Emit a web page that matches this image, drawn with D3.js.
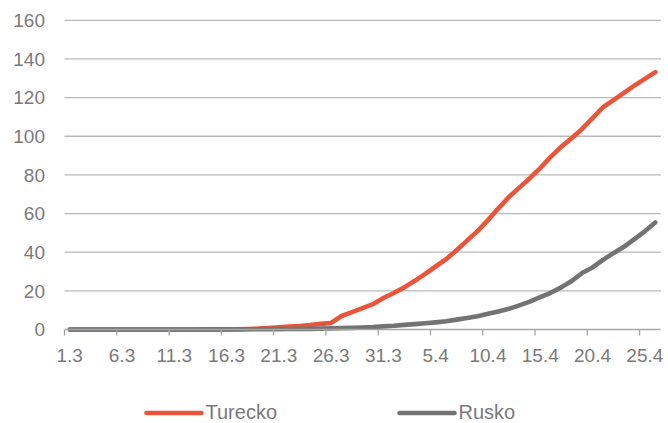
<!DOCTYPE html>
<html>
<head>
<meta charset="utf-8">
<script src="https://cdn.jsdelivr.net/npm/d3@7/dist/d3.min.js"></script>
<style>
  html, body { margin: 0; padding: 0; background: #fff; }
  svg { display: block; font-family: "Liberation Sans", Arial, sans-serif; }
</style>
</head>
<body>
<svg id="chart" width="668" height="423"></svg>
<script>
// Categories: daily dates 1.3 – 26.4
const categories = [
  "1.3","2.3","3.3","4.3","5.3","6.3","7.3","8.3","9.3","10.3",
  "11.3","12.3","13.3","14.3","15.3","16.3","17.3","18.3","19.3","20.3",
  "21.3","22.3","23.3","24.3","25.3","26.3","27.3","28.3","29.3","30.3","31.3",
  "1.4","2.4","3.4","4.4","5.4","6.4","7.4","8.4","9.4","10.4",
  "11.4","12.4","13.4","14.4","15.4","16.4","17.4","18.4","19.4","20.4",
  "21.4","22.4","23.4","24.4","25.4","26.4"
];

const turecko = [
  0,0,0,0,0,0,0,0,0,0,
  0,0,0.01,0.01,0.02,0.06,0.12,0.23,0.43,0.8,
  1.14,1.5,1.85,2.3,2.9,3.4,7.0,9.0,11.1,13.1,16.3,
  18.9,21.8,25.2,28.8,32.6,36.4,41.0,46.0,50.9,56.6,
  62.7,68.5,73.4,78.3,83.5,89.3,94.5,99.0,103.8,109.4,
  115.0,118.7,122.4,126.2,129.7,133.2
];

const rusko = [
  0,0,0,0,0,0.01,0.01,0.01,0.01,0.01,
  0.02,0.02,0.03,0.04,0.04,0.06,0.08,0.1,0.13,0.17,
  0.21,0.25,0.3,0.34,0.45,0.57,0.71,0.86,1.05,1.25,1.6,
  1.9,2.4,2.8,3.2,3.7,4.3,5.1,5.9,6.9,8.1,
  9.3,10.7,12.5,14.4,16.7,19.0,21.8,25.1,29.2,32.1,
  36.0,39.5,42.8,46.8,50.8,55.4
];

const xTickLabels = ["1.3","6.3","11.3","16.3","21.3","26.3","31.3","5.4","10.4","15.4","20.4","25.4"];
const yTicks = [0,20,40,60,80,100,120,140,160];
const seriesNames = ["Turecko","Rusko"];
const seriesColors = ["#E8553A","#737373"];

(function () {
const svg = d3.select("#chart");
const mLeft = 64.5, mRight = 660.5, mTop = 20.3, mBottom = 329.5;

const x = d3.scaleBand().domain(categories).range([mLeft, mRight]).padding(0);
const xc = d => x(d) + x.bandwidth() / 2;
const y = d3.scaleLinear().domain([0, 160]).range([mBottom, mTop]);

// gridlines
svg.append("g").selectAll("line").data(yTicks.filter(d => d > 0)).join("line")
  .attr("x1", mLeft).attr("x2", mRight + 0.5)
  .attr("y1", d => y(d)).attr("y2", d => y(d))
  .attr("stroke", "#b9b9b9").attr("stroke-width", 1.3);

// y labels
svg.append("g").selectAll("text").data(yTicks).join("text")
  .attr("x", 45).attr("y", d => y(d)).attr("dy", "0.36em")
  .attr("text-anchor", "end")
  .attr("font-size", 19).attr("fill", "#7a7a7a")
  .text(d => d);

// lines
const lineGen = vals => d3.line()
  .x((d, i) => xc(categories[i]))
  .y(d => y(d))(vals);

svg.append("path").attr("d", lineGen(turecko))
  .attr("fill", "none").attr("stroke", seriesColors[0]).attr("stroke-width", 4.6)
  .attr("stroke-linejoin", "round").attr("stroke-linecap", "round");
svg.append("path").attr("d", lineGen(rusko))
  .attr("fill", "none").attr("stroke", seriesColors[1]).attr("stroke-width", 4.6)
  .attr("stroke-linejoin", "round").attr("stroke-linecap", "round");

// x axis line
svg.append("line").attr("x1", mLeft).attr("x2", mRight)
  .attr("y1", mBottom).attr("y2", mBottom)
  .attr("stroke", "#a6a6a6").attr("stroke-width", 1.3);

// x ticks and labels
const xt = svg.append("g").selectAll("g").data(xTickLabels).join("g");
xt.append("line")
  .attr("x1", d => x(d)).attr("x2", d => x(d))
  .attr("y1", mBottom).attr("y2", mBottom + 6)
  .attr("stroke", "#a6a6a6").attr("stroke-width", 1.3);
xt.append("text")
  .attr("x", d => xc(d)).attr("y", 362)
  .attr("text-anchor", "middle")
  .attr("font-size", 19).attr("fill", "#7a7a7a")
  .text(d => d);

// legend
const legendX = [146.5, 399.5];
const lg = svg.append("g").selectAll("g").data(seriesNames).join("g");
lg.append("line")
  .attr("x1", (d, i) => legendX[i]).attr("x2", (d, i) => legendX[i] + 55)
  .attr("y1", 413).attr("y2", 413)
  .attr("stroke", (d, i) => seriesColors[i]).attr("stroke-width", 4.6)
  .attr("stroke-linecap", "round");
lg.append("text")
  .attr("x", (d, i) => legendX[i] + 59).attr("y", 419)
  .attr("font-size", 20).attr("fill", "#7a7a7a")
  .text(d => d);
})();
</script>
</body>
</html>
